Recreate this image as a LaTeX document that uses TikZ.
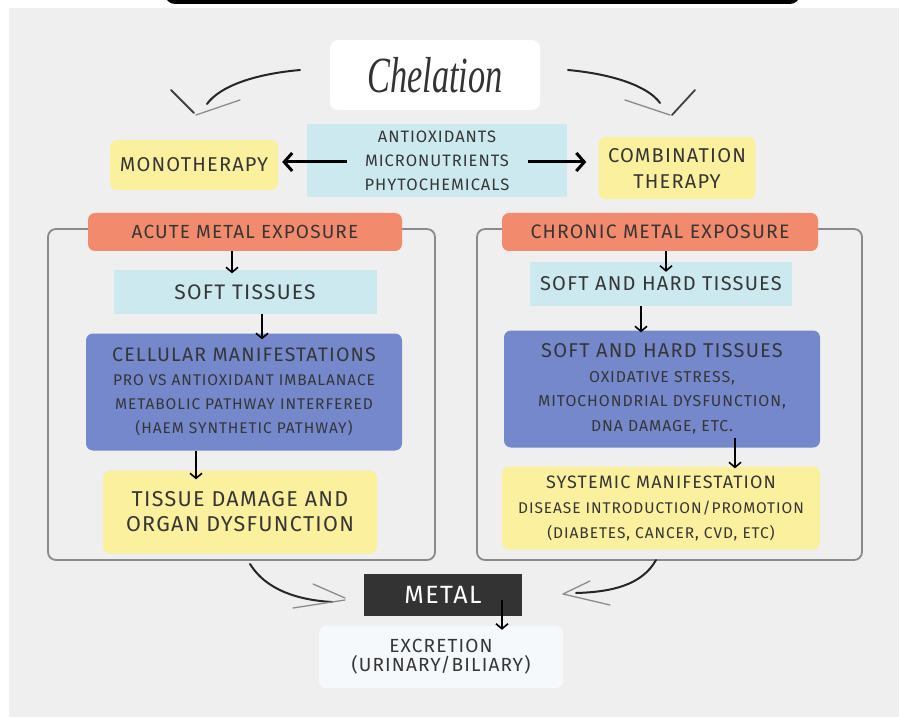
\documentclass[tikz,border=0pt]{standalone}
\usepackage{fontspec}
\setmainfont{Fira Sans}[LetterSpace=6]
\newfontfamily\chelfont{Liberation Serif}
\usetikzlibrary{arrows.meta}
\definecolor{bgpanel}{HTML}{EFEFEF}
\definecolor{txt}{HTML}{363636}
\definecolor{yel}{HTML}{FBF09E}
\definecolor{lblue}{HTML}{CDE9F0}
\definecolor{salmon}{HTML}{F28B6E}
\definecolor{pblue}{HTML}{7588CB}
\definecolor{pgray}{HTML}{8A8A8A}
\definecolor{metalc}{HTML}{333333}
\definecolor{excr}{HTML}{F5F9FC}
\tikzset{
  x=1pt, y=-1pt,
  bx/.style={rounded corners=7pt, inner sep=0pt, align=center, text=txt},
  flat/.style={inner sep=0pt, align=center, text=txt},
  darr/.style={line width=1.6pt, -{Straight Barb[length=5pt,width=12pt,line width=1.6pt]}},
  harr/.style={line width=3pt, -{Straight Barb[length=8pt,width=18pt,line width=3pt]}},
  swoosh/.style={line width=2pt, line cap=round, black!85},
  barbd/.style={line width=1.8pt, line cap=round, black!75},
  barbl/.style={line width=1.3pt, line cap=round, black!45},
  panel/.style={draw=pgray, line width=1.8pt, rounded corners=8pt},
}
\begin{document}
\begin{tikzpicture}
\useasboundingbox (0,0) rectangle (899,719);
\fill[white] (0,0) rectangle (899,719);
\fill[bgpanel] (9,8) rectangle (899,717);
\fill[black] (165,-30) [rounded corners=10pt] rectangle (800,4);

% Chelation
\node[bx, fill=white, minimum width=210pt, minimum height=70pt, rounded corners=8pt, text=black!80] (chel) at (435,75)
  {\scalebox{0.78}[1.15]{\chelfont\itshape\fontsize{44}{44}\selectfont Chelation}};

% swooshes top
\draw[swoosh] (300,70) .. controls (255,74) and (220,86) .. (207,104);
\draw[barbd] (171,90) -- (194,113);
\draw[barbl] (196,115) -- (240,100);
\draw[swoosh] (568,70) .. controls (612,74) and (648,86) .. (660,103);
\draw[barbd] (695,90) -- (672,115);
\draw[barbl] (670,115) -- (625,100);

% center blue box
\node[flat, fill=lblue, minimum width=260pt, minimum height=73pt, font=\fontsize{16.5}{24}\selectfont] (anti) at (437,161)
  {ANTIOXIDANTS\\MICRONUTRIENTS\\PHYTOCHEMICALS};
\node[bx, fill=yel, minimum width=168pt, minimum height=50pt, font=\fontsize{20}{24}\selectfont] (mono) at (194,165) {MONOTHERAPY};
\node[bx, fill=yel, minimum width=157pt, minimum height=62pt, font=\fontsize{20}{26}\selectfont] (comb) at (677,168) {COMBINATION\\THERAPY};
\coordinate (al) at (347,162);
\coordinate (ar) at (528,162);
\draw[harr] (al) -- ([xshift=4pt]mono.east |- al);
\draw[harr] (ar) -- ([xshift=-12pt]comb.west |- ar);

% panels
\draw[panel] (48,229) rectangle (435,560);
\draw[panel] (477,229) rectangle (862,560);

% left column
\node[bx, fill=salmon, minimum width=314pt, minimum height=38pt, font=\fontsize{19}{24}\selectfont] (acute) at (245,232) {ACUTE METAL EXPOSURE};
\node[flat, fill=lblue, minimum width=263pt, minimum height=43pt, font=\fontsize{21}{24}\selectfont] (soft) at (245,292) {SOFT TISSUES};
\node[bx, fill=pblue, minimum width=316pt, minimum height=117pt, font=\fontsize{15.5}{24}\selectfont] (cell) at (244,392)
  {{\fontsize{19.5}{24}\selectfont CELLULAR MANIFESTATIONS}\\
   PRO VS ANTIOXIDANT IMBALANACE\\
   METABOLIC PATHWAY INTERFERED\\
   (HAEM SYNTHETIC PATHWAY)};
\node[bx, fill=yel, minimum width=274pt, minimum height=83pt, font=\fontsize{21.5}{25}\selectfont] (dam) at (240,512)
  {TISSUE DAMAGE AND\\ORGAN DYSFUNCTION};
\draw[darr] ([xshift=-13pt]acute.south) -- ([xshift=-13pt,yshift=-3pt]soft.north);
\draw[darr] ([xshift=17pt]soft.south) -- ([xshift=18pt,yshift=-6pt]cell.north);
\draw[darr] ([xshift=-48pt]cell.south) -- ([xshift=-44pt,yshift=-9pt]dam.north);

% right column
\node[bx, fill=salmon, minimum width=316pt, minimum height=38pt, font=\fontsize{19.5}{24}\selectfont] (chron) at (660,232) {CHRONIC METAL EXPOSURE};
\node[flat, fill=lblue, minimum width=262pt, minimum height=44pt, font=\fontsize{20}{24}\selectfont] (shard) at (661,284) {SOFT AND HARD TISSUES};
\node[bx, fill=pblue, minimum width=316pt, minimum height=117pt, font=\fontsize{15.8}{24.5}\selectfont] (shard2) at (662,389)
  {{\fontsize{20}{25}\selectfont SOFT AND HARD TISSUES}\\
   OXIDATIVE STRESS,\\
   MITOCHONDRIAL DYSFUNCTION,\\
   DNA DAMAGE, ETC.};
\node[bx, fill=yel, minimum width=318pt, minimum height=83pt, font=\fontsize{15.5}{25}\selectfont] (sys) at (661,508)
  {{\fontsize{18}{25}\selectfont SYSTEMIC MANIFESTATION}\\
   DISEASE INTRODUCTION/PROMOTION\\
   (DIABETES, CANCER, CVD, ETC)};
\draw[darr] ([xshift=6pt]chron.south) -- ([xshift=5pt,yshift=-10pt]shard.north);
\draw[darr] ([xshift=-20pt]shard.south) -- ([xshift=-21pt,yshift=-2pt]shard2.north);
\draw[darr] ([xshift=73pt,yshift=10pt]shard2.south) -- ([xshift=74pt,yshift=-2pt]sys.north);

% bottom
\node[flat, fill=metalc, text=white, minimum width=158pt, minimum height=42pt, font=\fontsize{25}{26}\selectfont] (metal) at (443,595)
  {METAL};
\node[bx, fill=excr, minimum width=244pt, minimum height=62pt, font=\fontsize{19}{19}\selectfont] (exc) at (441,657)
  {EXCRETION\\(URINARY/BILIARY)};
\draw[darr] ([xshift=59pt,yshift=16pt]metal.south) -- ([xshift=61pt,yshift=-4pt]exc.north);

\draw[swoosh] (250,564) .. controls (266,590) and (298,600) .. (332,602);
\draw[barbl] (313,584) -- (345,598);
\draw[barbl] (345,600) -- (293,608);
\draw[swoosh] (656,560) .. controls (642,585) and (612,592) .. (576,593);
\draw[barbl] (590,581) -- (563,594);
\draw[barbl] (563,594) -- (610,605);
\end{tikzpicture}
\end{document}
